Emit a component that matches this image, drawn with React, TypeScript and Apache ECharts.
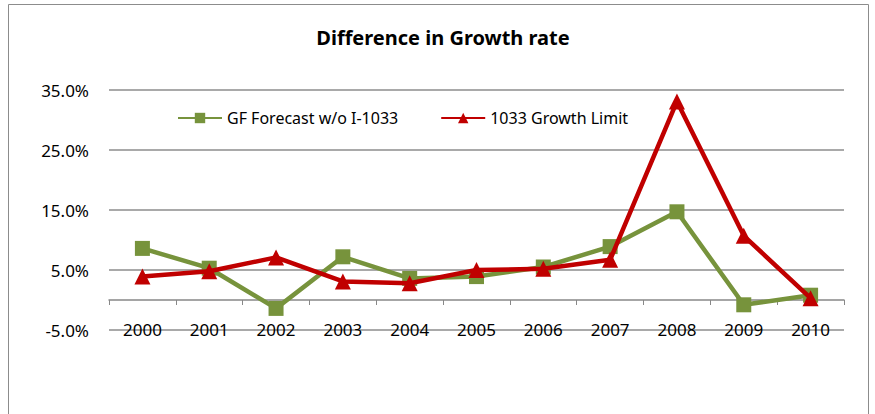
import React, { useEffect, useRef } from "react";
import * as echarts from "echarts";

const years = ["2000", "2001", "2002", "2003", "2004", "2005", "2006", "2007", "2008", "2009", "2010"];
const gfForecast = [8.6, 5.3, -1.4, 7.2, 3.6, 3.9, 5.5, 8.9, 14.7, -0.8, 0.8];
const growthLimit = [3.9, 4.8, 7.1, 3.1, 2.8, 5.0, 5.2, 6.7, 33.1, 10.7, 0.3];
const seriesNames = ["GF Forecast w/o I-1033", "1033 Growth Limit"];
const titleText = "Difference in Growth rate";

const FONT = "'Noto Sans', 'Open Sans', sans-serif";

export default function App() {
  const ref = useRef<HTMLDivElement>(null);
  useEffect(() => {
    if (!ref.current) return;
    const chart = echarts.init(ref.current, null, { renderer: "svg" });
    chart.setOption({
      animation: false,
      backgroundColor: "#ffffff",
      title: {
        text: titleText,
        left: 438,
        top: 22,
        textAlign: "center",
        textStyle: { fontFamily: FONT, fontSize: 20, fontWeight: "bold", color: "#000" },
      },
      graphic: [
        {
          type: "rect",
          shape: { x: 8.5, y: 4.5, width: 860, height: 430 },
          style: { fill: "none", stroke: "#8c8c8c", lineWidth: 1 },
          silent: true,
        },
      ],
      legend: {
        left: 172,
        top: 105,
        itemWidth: 44,
        itemHeight: 13,
        itemGap: 42,
        textStyle: { fontFamily: FONT, fontSize: 16, color: "#000" },
        data: seriesNames,
      },
      grid: { left: 109, right: 31, top: 90, bottom: 84, containLabel: false },
      xAxis: {
        type: "category",
        data: years,
        boundaryGap: true,
        axisLine: { onZero: true, lineStyle: { color: "#888", width: 1.5 } },
        axisTick: { show: true, length: 5, lineStyle: { color: "#888" } },
        axisLabel: { margin: -9, fontFamily: FONT, fontSize: 17, color: "#000" },
      },
      yAxis: {
        type: "value",
        min: -5,
        max: 35,
        interval: 10,
        axisLine: { show: false },
        axisTick: { show: false },
        axisLabel: {
          margin: 20,
          fontFamily: FONT,
          fontSize: 17,
          color: "#000",
          formatter: (v: number) => v.toFixed(1) + "%",
        },
        splitLine: { lineStyle: { color: "#8c8c8c", width: 1.5 } },
      },
      series: [
        {
          name: seriesNames[0],
          type: "line",
          data: gfForecast,
          symbol: "rect",
          symbolSize: 15,
          lineStyle: { color: "#77933C", width: 4.5 },
          itemStyle: { color: "#77933C" },
          z: 2,
        },
        {
          name: seriesNames[1],
          type: "line",
          data: growthLimit,
          symbol: "triangle",
          symbolSize: 16,
          lineStyle: { color: "#C00000", width: 4.5 },
          itemStyle: { color: "#C00000" },
          z: 3,
        },
      ],
    });
    return () => chart.dispose();
  }, []);
  return (
    <div
      ref={ref}
      style={{ position: "absolute", left: 0, top: 0, width: 875, height: 414 }}
    />
  );
}
